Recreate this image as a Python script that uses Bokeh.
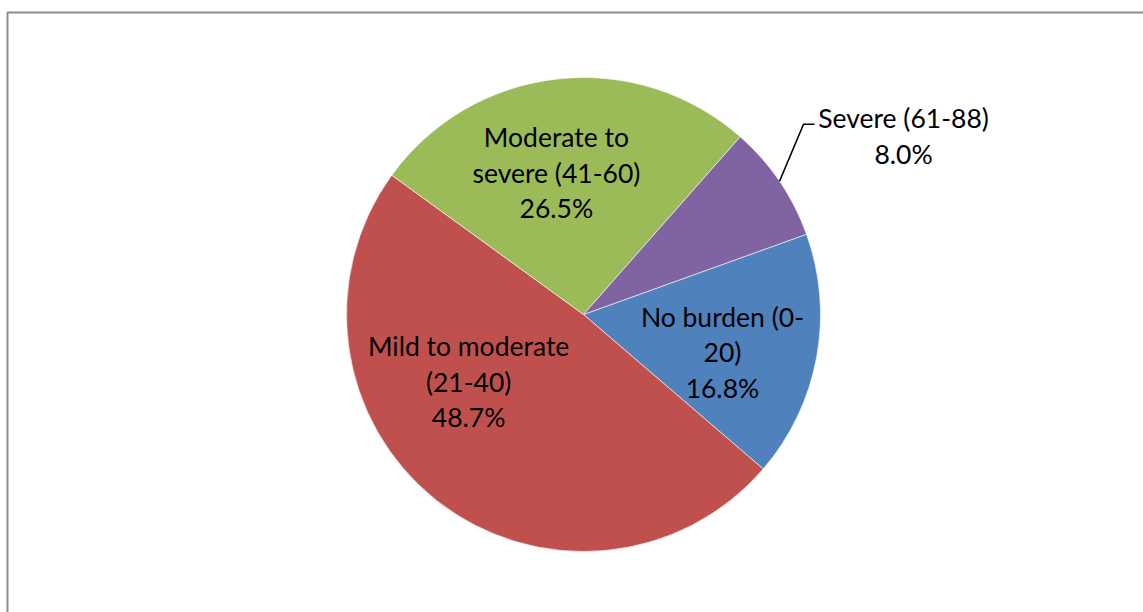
import math
import numpy as np
from bokeh.plotting import figure
from bokeh.models import Range1d, ColumnDataSource
from bokeh.core.properties import value
from bokeh.embed import file_html
from bokeh.resources import INLINE

# Caregiver burden score groups and their share of respondents (%)
categories = ["No burden (0-20)", "Mild to moderate (21-40)",
              "Moderate to severe (41-60)", "Severe (61-88)"]
shares = [16.8, 48.7, 26.5, 8.0]
# How each category name wraps inside its data label
label_lines = [["No burden (0-", "20)"],
               ["Mild to moderate", "(21-40)"],
               ["Moderate to", "severe (41-60)"],
               ["Severe (61-88)"]]
colors = ["#4F81BD", "#C0504D", "#9BBB59", "#8064A2"]

W, H = 1143, 612
CX, CY = 583, H - 314          # pie centre (y measured upward)
R = 237                        # pie radius
FIRST_SLICE = 70.2             # degrees clockwise from 12 o'clock
FONT = value("Lato")
FONT_SIZE = "26.5px"
LINE_STEP = 35.5

# label placement: (distance from centre, angle nudge in degrees); None = outside with leader
label_place = [(144, 4.8), (133, 21.4), (144.5, -4.5), None]


def math_angle(deg_cw_from_top):
    return math.radians(90.0 - deg_cw_from_top)


total = float(sum(shares))
ends = np.cumsum(shares) / total
starts = ends - np.array(shares) / total
a_start = FIRST_SLICE + 360.0 * starts
a_end = FIRST_SLICE + 360.0 * ends
mid = (a_start + a_end) / 2.0

wedges = ColumnDataSource(dict(
    x=[CX] * len(shares), y=[CY] * len(shares),
    start=[math_angle(a) for a in a_end],
    end=[math_angle(a) for a in a_start],
    color=colors, name=categories,
))

p = figure(width=W, height=H, output_backend="svg", toolbar_location=None,
           x_range=Range1d(0, W), y_range=Range1d(0, H),
           min_border=0, min_border_left=0, min_border_right=0,
           min_border_top=0, min_border_bottom=0)
p.axis.visible = False
p.grid.visible = False
p.outline_line_color = None
p.background_fill_color = "white"
p.border_fill_color = "white"

# chart-area frame (top and left edges)
p.line(x=[7, 7, W + 5], y=[-5, H - 12, H - 12], line_color="#8c8c8c", line_width=2)

p.wedge(x="x", y="y", radius=R, start_angle="start", end_angle="end",
        fill_color="color", line_color="white", line_width=0.6, source=wedges)

tx, ty, tt = [], [], []
for i, share in enumerate(shares):
    lines = label_lines[i] + [f"{share:.1f}%"]
    n = len(lines)
    if label_place[i] is not None:
        r, nudge = label_place[i]
        a = math.radians(mid[i] + nudge)
        xc = CX + r * math.sin(a)
        yc = CY + r * math.cos(a)
    else:
        a = math.radians(mid[i])
        ex = CX + R * math.sin(a)
        ey = CY + R * math.cos(a)
        elbow_x, elbow_y = ex + 24, ey + 57
        end_x = elbow_x + 11
        p.line(x=[ex, elbow_x, end_x], y=[ey, elbow_y, elbow_y],
               line_color="black", line_width=1.6)
        xc = end_x + 89
        yc = elbow_y - 11.5
    for k, s in enumerate(lines):
        tx.append(xc)
        ty.append(yc + (n - 1) / 2.0 * LINE_STEP - k * LINE_STEP)
        tt.append(s)

p.text(x=tx, y=ty, text=tt, text_align="center", text_baseline="middle",
       text_font=FONT, text_font_size=FONT_SIZE, text_color="black")

open("out.html", "w").write(file_html(p, INLINE))
